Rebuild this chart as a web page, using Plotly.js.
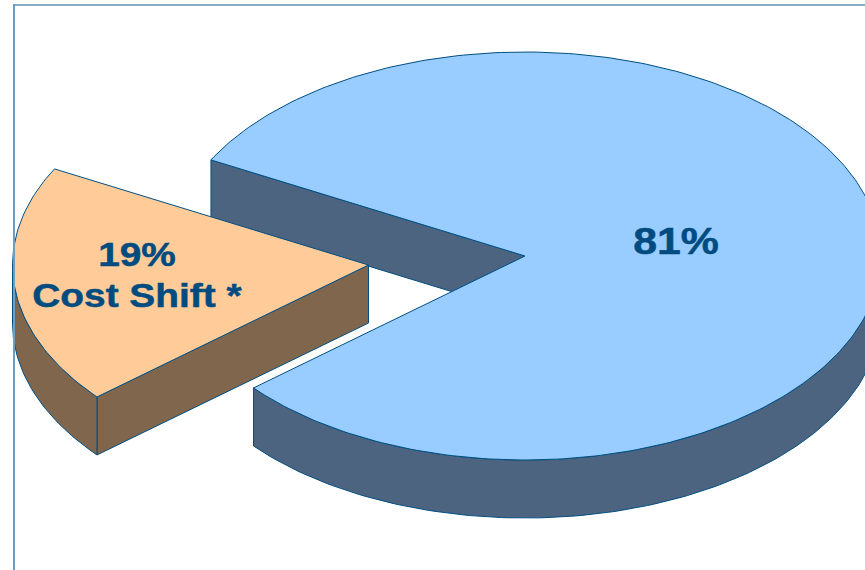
<!DOCTYPE html>
<html>
<head>
<meta charset="utf-8">
<script src="https://cdn.plot.ly/plotly-3.0.1.min.js"></script>
<style>html,body{margin:0;padding:0;background:#fff}#chart{width:865px;height:570px}</style>
</head>
<body>
<div id="chart"></div>
<script>
// Share of cost, in percent
const shares = [81, 19];
const shareLabels = ["81%", "19%"];
const noteLabel = "Cost Shift *";

// Projection of the tilted disc, in plot units
const startAngle = 298.1;
const radiusX = 356;
const radiusY = 204;
const depth = 58;
const centres = [[525, 256], [368.5, 265]];

const topColours = ["#99ccff", "#ffcc99"];
const wallColours = ["#4d6480", "#80664d"];
const edgeColour = "#004f82";
const textColour = "#004b80";

const total = shares.reduce((a, b) => a + b, 0);
const rim = (c, deg, drop) => {
  const r = deg * Math.PI / 180;
  return [c[0] + radiusX * Math.sin(r), c[1] - radiusY * Math.cos(r) + (drop || 0)];
};
const arc = (c, from, to, drop) => {
  const pts = [];
  const n = Math.max(2, Math.ceil(Math.abs(to - from)));
  for (let i = 0; i <= n; i++) pts.push(rim(c, from + (to - from) * i / n, drop));
  return pts;
};
const poly = (pts, fill) => ({
  type: "scatter", mode: "lines", hoverinfo: "skip", fill: "toself",
  fillcolor: fill, line: {color: edgeColour, width: 1},
  x: pts.map(p => p[0]).concat(pts[0][0]),
  y: pts.map(p => p[1]).concat(pts[0][1])
});

// Slice sweeps follow the values, clockwise from the start angle
const sweeps = [];
let cursor = startAngle;
shares.forEach(v => { sweeps.push([cursor, cursor + v / total * 360]); cursor += v / total * 360; });

const traces = [];
// Large slice: cut face, then curved front wall, then top
{
  const c = centres[0], [a, b] = sweeps[0];
  const cutTop = rim(c, a), cutDrop = rim(c, a, depth);
  traces.push(poly([cutTop, c, [c[0], c[1] + depth], cutDrop], wallColours[0]));
  const endFront = b - 360;
  traces.push(poly(arc(c, 90, endFront).concat(arc(c, endFront, 90, depth)), wallColours[0]));
  traces.push(poly([c].concat(arc(c, a, b)), topColours[0]));
}
// Small slice: cut face, curved wall, then top
{
  const c = centres[1], [a, b] = sweeps[1];
  const fa = a - 360, fb = b - 360;
  traces.push(poly([c, rim(c, fa), rim(c, fa, depth), [c[0], c[1] + depth]], wallColours[1]));
  traces.push(poly(arc(c, fa, 270).concat(arc(c, 270, fa, depth)), wallColours[1]));
  traces.push(poly([c].concat(arc(c, fa, fb)), topColours[1]));
}

const label = (text, x, y, size) => ({
  text, x, y, xref: "x", yref: "y", showarrow: false,
  xanchor: "center", yanchor: "middle",
  font: {family: "Liberation Sans, Arial, sans-serif", size, color: textColour, weight: 700}
});

// Horizontal extension of each label's face
const labelStretch = [1.157, 1.175, 1.177];

const layout = {
  width: 865, height: 570,
  margin: {l: 0, r: 0, t: 0, b: 0},
  paper_bgcolor: "#fff", plot_bgcolor: "#fff",
  showlegend: false,
  xaxis: {range: [0, 865], visible: false, fixedrange: true},
  yaxis: {range: [570, 0], visible: false, fixedrange: true},
  annotations: [
    label(shareLabels[0], 675.5, 241.5, 37),
    label(shareLabels[1], 136.5, 254, 33),
    label(noteLabel, 136.5, 295, 33)
  ],
  shapes: [
    {type: "line", xref: "paper", yref: "paper", x0: 14 / 865, x1: 14 / 865, y0: 0, y1: 1 - 4.5 / 570,
     line: {color: "#6f9dbd", width: 2}},
    {type: "line", xref: "paper", yref: "paper", x0: 13 / 865, x1: 1, y0: 1 - 5 / 570, y1: 1 - 5 / 570,
     line: {color: "#5f90b2", width: 1.5}}
  ]
};

Plotly.newPlot("chart", traces, layout, {displayModeBar: false, staticPlot: true}).then(gd => {
  gd.querySelectorAll(".annotation-text").forEach((t, i) => {
    const w = t.getComputedTextLength();
    t.setAttribute("textLength", (w * labelStretch[i]).toFixed(1));
    t.setAttribute("lengthAdjust", "spacingAndGlyphs");
    t.style.stroke = textColour;
    t.style.strokeWidth = "0.5px";
  });
});
</script>
</body>
</html>
